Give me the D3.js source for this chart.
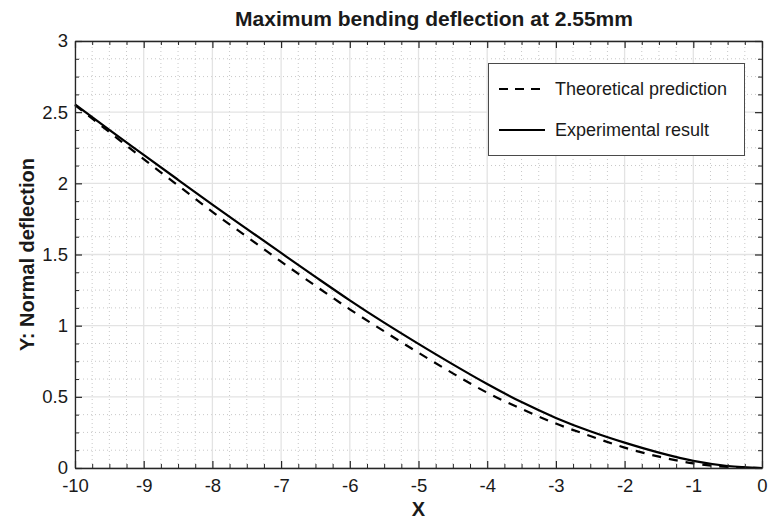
<!DOCTYPE html>
<html>
<head>
<meta charset="utf-8">
<script src="https://cdn.jsdelivr.net/npm/d3@7"></script>
<style>
  html, body { margin: 0; padding: 0; background: #fff; }
  svg { display: block; font-family: "Liberation Sans", Arial, Helvetica, sans-serif; }
</style>
</head>
<body>
<svg id="chart" width="769" height="521"></svg>
<script>
// Beam deflection profile along X
const xValues = [-10, -9.5, -9, -8.5, -8, -7.5, -7, -6.5, -6, -5.5, -5, -4.5, -4, -3.5, -3, -2.5, -2, -1.5, -1, -0.5, 0];
const theoretical = [2.55, 2.36, 2.17, 1.985, 1.80, 1.625, 1.45, 1.28, 1.115, 0.96, 0.81, 0.665, 0.529, 0.415, 0.312, 0.225, 0.143, 0.08, 0.033, 0.007, 0];
const experimental = [2.555, 2.375, 2.20, 2.025, 1.85, 1.68, 1.511, 1.343, 1.178, 1.021, 0.872, 0.728, 0.59, 0.463, 0.352, 0.258, 0.178, 0.108, 0.05, 0.014, 0];

const xTicks = [-10, -9, -8, -7, -6, -5, -4, -3, -2, -1, 0];
const yTicks = [0, 0.5, 1, 1.5, 2, 2.5, 3];
const seriesNames = ["Theoretical prediction", "Experimental result"];
const titleText = "Maximum bending deflection at 2.55mm";
const xLabel = "X";
const yLabel = "Y: Normal deflection";

const W = 769, H = 521;
const m = { left: 75, right: 7, top: 41, bottom: 53 };
const svg = d3.select("#chart");

const x = d3.scaleLinear().domain([-10, 0]).range([m.left, W - m.right]);
const y = d3.scaleLinear().domain([0, 3]).range([H - m.bottom, m.top]);

const minorX = d3.range(-10, 0.001, 0.25).filter(v => Math.abs(v - Math.round(v)) > 1e-6);
const minorY = d3.range(0, 3.001, 0.125).filter(v => Math.abs(v * 2 - Math.round(v * 2)) > 1e-6);

const grid = svg.append("g");
// minor dotted grid
grid.selectAll(".mx").data(minorX).join("line")
  .attr("x1", d => x(d)).attr("x2", d => x(d))
  .attr("y1", y(0)).attr("y2", y(3))
  .attr("stroke", "#c8c8c8").attr("stroke-width", 1).attr("stroke-dasharray", "1,3");
grid.selectAll(".my").data(minorY).join("line")
  .attr("x1", x(-10)).attr("x2", x(0))
  .attr("y1", d => y(d)).attr("y2", d => y(d))
  .attr("stroke", "#c8c8c8").attr("stroke-width", 1).attr("stroke-dasharray", "1,3");
// major grid
grid.selectAll(".gx").data(xTicks).join("line")
  .attr("x1", d => x(d)).attr("x2", d => x(d))
  .attr("y1", y(0)).attr("y2", y(3))
  .attr("stroke", "#e3e3e3").attr("stroke-width", 1.3);
grid.selectAll(".gy").data(yTicks).join("line")
  .attr("x1", x(-10)).attr("x2", x(0))
  .attr("y1", d => y(d)).attr("y2", d => y(d))
  .attr("stroke", "#e3e3e3").attr("stroke-width", 1.3);

// curves
const line = d3.line().x((d, i) => x(xValues[i])).y(d => y(d)).curve(d3.curveMonotoneX);
svg.append("path").datum(theoretical).attr("d", line)
  .attr("fill", "none").attr("stroke", "#000").attr("stroke-width", 2.2)
  .attr("stroke-dasharray", "9,8");
svg.append("path").datum(experimental).attr("d", line)
  .attr("fill", "none").attr("stroke", "#000").attr("stroke-width", 2.2);

// axes with inward ticks on all four sides
const axisColor = "#262626";
const plain = d => String(d);
function styleAxis(g) {
  g.select(".domain").attr("stroke", axisColor).attr("stroke-width", 1.3);
  g.selectAll(".tick line").attr("stroke", axisColor).attr("stroke-width", 1.2);
}
function minorTicks(g) {
  g.select(".domain").remove();
  g.selectAll("line").attr("stroke", axisColor);
}
const axBottom = svg.append("g").attr("transform", `translate(0,${y(0)})`)
  .call(d3.axisBottom(x).tickValues(xTicks).tickSizeInner(-7).tickSizeOuter(0).tickPadding(11).tickFormat(plain));
styleAxis(axBottom);
axBottom.selectAll("text").attr("font-size", 18.5).attr("fill", "#1a1a1a");
svg.append("g").attr("transform", `translate(0,${y(0)})`)
  .call(d3.axisBottom(x).tickValues(minorX).tickSize(-4).tickFormat(""))
  .call(minorTicks);

const axLeft = svg.append("g").attr("transform", `translate(${x(-10)},0)`)
  .call(d3.axisLeft(y).tickValues(yTicks).tickSizeInner(-7).tickSizeOuter(0).tickPadding(7).tickFormat(plain));
styleAxis(axLeft);
axLeft.selectAll("text").attr("font-size", 18.5).attr("fill", "#1a1a1a");
svg.append("g").attr("transform", `translate(${x(-10)},0)`)
  .call(d3.axisLeft(y).tickValues(minorY).tickSize(-4).tickFormat(""))
  .call(minorTicks);

const axTop = svg.append("g").attr("transform", `translate(0,${y(3)})`)
  .call(d3.axisTop(x).tickValues(xTicks).tickSizeInner(-7).tickSizeOuter(0).tickFormat(""));
styleAxis(axTop);
svg.append("g").attr("transform", `translate(0,${y(3)})`)
  .call(d3.axisTop(x).tickValues(minorX).tickSize(-4).tickFormat(""))
  .call(minorTicks);

const axRight = svg.append("g").attr("transform", `translate(${x(0)},0)`)
  .call(d3.axisRight(y).tickValues(yTicks).tickSizeInner(-7).tickSizeOuter(0).tickFormat(""));
styleAxis(axRight);
svg.append("g").attr("transform", `translate(${x(0)},0)`)
  .call(d3.axisRight(y).tickValues(minorY).tickSize(-4).tickFormat(""))
  .call(minorTicks);

// title and axis labels
svg.append("text").attr("x", 434).attr("y", 26).attr("text-anchor", "middle")
  .attr("font-size", 21).attr("font-weight", "bold").attr("fill", "#1a1a1a").text(titleText);
svg.append("text").attr("x", (x(-10) + x(0)) / 2).attr("y", 516).attr("text-anchor", "middle")
  .attr("font-size", 20).attr("font-weight", "bold").attr("fill", "#1a1a1a").text(xLabel);
svg.append("text").attr("transform", `translate(34,${(y(0) + y(3)) / 2}) rotate(-90)`)
  .attr("text-anchor", "middle").attr("font-size", 20).attr("font-weight", "bold")
  .attr("fill", "#1a1a1a").text(yLabel);

// legend
const lg = svg.append("g");
lg.append("rect").attr("x", 488.5).attr("y", 63.5).attr("width", 256).attr("height", 92)
  .attr("fill", "#fff").attr("stroke", "#4a4a4a").attr("stroke-width", 1);
const rows = [{ dash: "9,7", y: 89 }, { dash: null, y: 130 }];
rows.forEach((r, i) => {
  lg.append("line").attr("x1", 499).attr("x2", 545).attr("y1", r.y).attr("y2", r.y)
    .attr("stroke", "#000").attr("stroke-width", 2.2).attr("stroke-dasharray", r.dash);
  lg.append("text").attr("x", 555).attr("y", r.y).attr("dy", "0.35em")
    .attr("font-size", 18).attr("fill", "#1a1a1a").text(seriesNames[i]);
});
</script>
</body>
</html>
